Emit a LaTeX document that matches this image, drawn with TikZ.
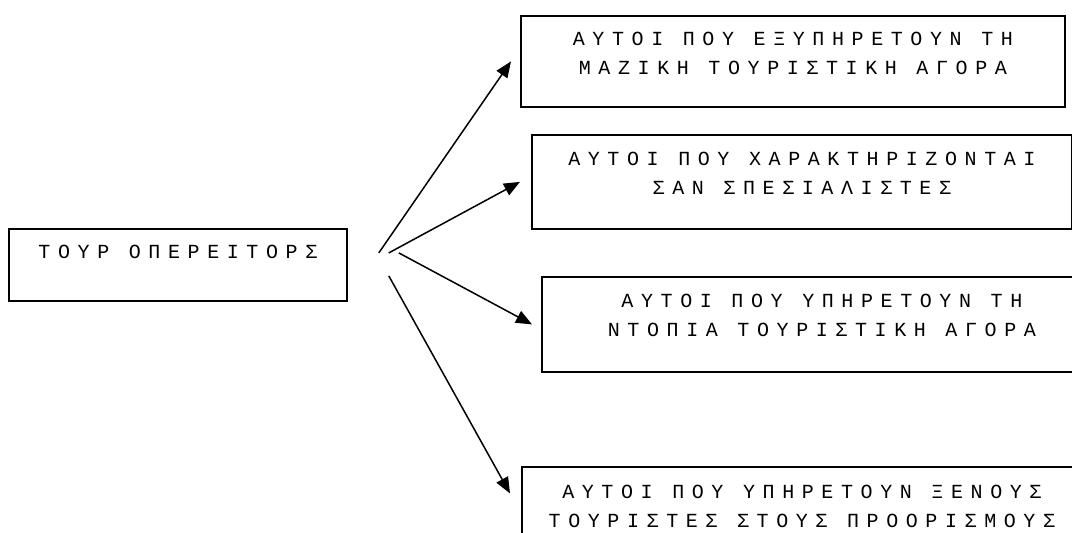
\documentclass[tikz,border=0pt]{standalone}
\usepackage{fontspec}
\newfontfamily\grmono[LetterSpace=38]{Liberation Mono}
\usetikzlibrary{arrows.meta}

\tikzset{
  plaisio/.style={draw, line width=1.8pt, anchor=north west, inner sep=0pt},
  keimeno/.style={font=\grmono\fontsize{20}{29}\selectfont, align=center, anchor=north, inner sep=0pt},
  velos/.style={line width=1.5pt, -{Triangle[length=16pt,width=13pt]}}
}

\begin{document}
\begin{tikzpicture}[x=1pt, y=-1pt]
\clip (0,0) rectangle (1072,533);
% boxes
\node[plaisio, minimum width=338pt, minimum height=72pt] (tour) at (8,228) {};
\node[plaisio, minimum width=544pt, minimum height=91pt] (mazikh) at (520,15) {};
\node[plaisio, minimum width=540pt, minimum height=94pt] (eidikoi) at (531,134) {};
\node[plaisio, minimum width=560pt, minimum height=95pt] (ntopia) at (541,276) {};
\node[plaisio, minimum width=560pt, minimum height=95pt] (xenoi) at (521,466) {};
% texts
\node[keimeno] (tour-t) at ([yshift=-17pt]tour.north) {ΤΟΥΡ ΟΠΕΡΕΙΤΟΡΣ};
\node[keimeno] (mazikh-t) at ([yshift=-17pt]mazikh.north) {ΑΥΤΟΙ ΠΟΥ ΕΞΥΠΗΡΕΤΟΥΝ ΤΗ\\ΜΑΖΙΚΗ ΤΟΥΡΙΣΤΙΚΗ ΑΓΟΡΑ};
\node[keimeno] (eidikoi-t) at ([yshift=-18pt]eidikoi.north) {ΑΥΤΟΙ ΠΟΥ ΧΑΡΑΚΤΗΡΙΖΟΝΤΑΙ\\ΣΑΝ ΣΠΕΣΙΑΛΙΣΤΕΣ};
\node[keimeno] (ntopia-t) at ([yshift=-18pt]ntopia.north) {ΑΥΤΟΙ ΠΟΥ ΥΠΗΡΕΤΟΥΝ ΤΗ\\ΝΤΟΠΙΑ ΤΟΥΡΙΣΤΙΚΗ ΑΓΟΡΑ};
\node[keimeno] (xenoi-t) at ([yshift=-19pt]xenoi.north) {ΑΥΤΟΙ ΠΟΥ ΥΠΗΡΕΤΟΥΝ ΞΕΝΟΥΣ\\ΤΟΥΡΙΣΤΕΣ ΣΤΟΥΣ ΠΡΟΟΡΙΣΜΟΥΣ};
% arrow tails
\coordinate (t1) at ([xshift=31pt, yshift=12pt]tour.east);
\coordinate (t2) at ([xshift=41pt, yshift=12pt]tour.east);
\coordinate (t3) at ([xshift=51pt, yshift=12pt]tour.east);
\coordinate (t4) at ([xshift=41pt, yshift=-11pt]tour.east);
% arrows
\draw[velos] (t1) -- ([xshift=-9pt]mazikh.west);
\draw[velos] (t2) -- ([xshift=-11pt]eidikoi.west);
\draw[velos] (t3) -- ([xshift=-9pt]ntopia.west);
\draw[velos] (t4) -- ([xshift=-11pt, yshift=21pt]xenoi.west);
\end{tikzpicture}
\end{document}
